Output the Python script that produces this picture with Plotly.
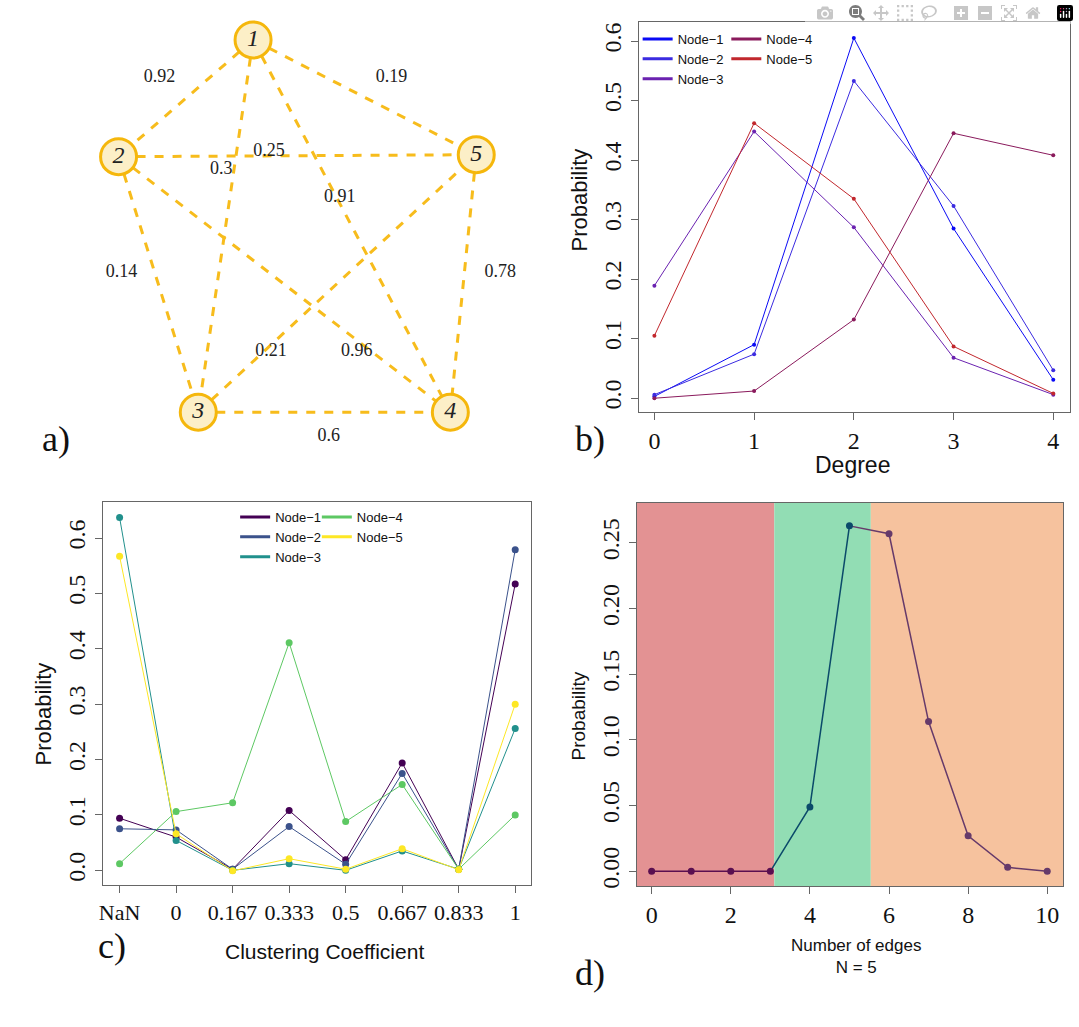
import plotly.graph_objects as go

W, H = 1079, 1027

# ---------- Panel a: network ----------
node_names = ["1", "2", "3", "4", "5"]
node_x = [250, 115, 195, 448, 474]
node_y = [40, 157, 413, 413, 155]
edges = [("1", "2"), ("1", "5"), ("2", "5"), ("1", "3"), ("1", "4"),
         ("2", "3"), ("5", "4"), ("3", "5"), ("2", "4"), ("3", "4")]
edge_weights = ["0.92", "0.19", "0.25", "0.3", "0.91", "0.14", "0.78", "0.21", "0.96", "0.6"]
label_x = [156, 389, 266, 218, 337, 118, 498, 268, 354, 326]
label_y = [78, 78, 152, 170, 198, 273, 273, 352, 352, 437]

# ---------- Panel b ----------
degree = [0, 1, 2, 3, 4]
deg_names = ["Node\u22121", "Node\u22122", "Node\u22123", "Node\u22124", "Node\u22125"]
deg_vals = [
    [0.003, 0.09, 0.605, 0.285, 0.031],
    [0.006, 0.074, 0.533, 0.323, 0.047],
    [0.189, 0.448, 0.287, 0.068, 0.006],
    [0.0, 0.012, 0.132, 0.445, 0.408],
    [0.105, 0.462, 0.335, 0.087, 0.008],
]
deg_colors = ["#0A0AF5", "#3B2BE0", "#6A22B0", "#8A1A5C", "#C1272D"]

# ---------- Panel c ----------
cc_labels = ["NaN", "0", "0.167", "0.333", "0.5", "0.667", "0.833", "1"]
cc_vals = [
    [0.094, 0.060, 0.002, 0.108, 0.019, 0.194, 0.002, 0.517],
    [0.075, 0.073, 0.002, 0.079, 0.011, 0.175, 0.002, 0.579],
    [0.637, 0.054, 0.0, 0.012, 0.0, 0.035, 0.002, 0.256],
    [0.012, 0.106, 0.122, 0.411, 0.088, 0.155, 0.002, 0.100],
    [0.567, 0.066, -0.001, 0.021, 0.002, 0.039, 0.001, 0.300],
]
cc_colors = ["#440154", "#3B528B", "#21908C", "#5DC863", "#FDE725"]

# ---------- Panel d ----------
n_edges = list(range(11))
p_edges = [0.0, 0.0, 0.0, 0.0, 0.049, 0.263, 0.257, 0.114, 0.027, 0.003, 0.0]
regions = [(-0.4, 3.1, "#E39293"), (3.1, 5.54, "#92DDB4"), (5.54, 10.5, "#F6C29E")]

fig = go.Figure()

def px_x(p):
    return p / W

def px_y(p):
    return 1 - p / H

for (a, b) in edges:
    i, j = node_names.index(a), node_names.index(b)
    fig.add_trace(go.Scatter(x=[node_x[i], node_x[j]], y=[node_y[i], node_y[j]], mode="lines",
                             line=dict(color="#F7BC1C", width=3, dash="dash"),
                             showlegend=False, hoverinfo="skip", xaxis="x", yaxis="y"))
fig.add_trace(go.Scatter(x=label_x, y=label_y, mode="text", text=edge_weights,
                         textfont=dict(family="Liberation Serif", size=18, color="#222"),
                         showlegend=False, xaxis="x", yaxis="y"))
fig.add_trace(go.Scatter(x=node_x, y=node_y, mode="markers+text", text=["<i>%s</i>" % n for n in node_names],
                         textfont=dict(family="Liberation Serif", size=24, color="#222"),
                         marker=dict(size=36, color="#FCEFC7", line=dict(color="#F5B70C", width=3)),
                         showlegend=False, xaxis="x", yaxis="y"))

# panel b
for k in range(5):
    fig.add_trace(go.Scatter(x=degree, y=deg_vals[k], mode="lines+markers", name=deg_names[k],
                             line=dict(color=deg_colors[k], width=1), marker=dict(size=4, color=deg_colors[k]),
                             xaxis="x2", yaxis="y2", showlegend=False))
    fig.add_trace(go.Scatter(x=[None], y=[None], mode="lines", name=deg_names[k],
                             line=dict(color=deg_colors[k], width=3),
                             xaxis="x2", yaxis="y2", legend="legend" if k < 3 else "legend2"))
# panel c
for k in range(5):
    fig.add_trace(go.Scatter(x=list(range(len(cc_labels))), y=cc_vals[k], mode="lines+markers", name=deg_names[k],
                             line=dict(color=cc_colors[k], width=1), marker=dict(size=7, color=cc_colors[k]),
                             xaxis="x3", yaxis="y3", showlegend=False))
    fig.add_trace(go.Scatter(x=[None], y=[None], mode="lines", name=deg_names[k],
                             line=dict(color=cc_colors[k], width=3),
                             xaxis="x3", yaxis="y3", legend="legend3" if k < 3 else "legend4"))
# panel d
seg_col = ["#5A0F50"] * 4 + ["#0B4A6A"] * 2 + ["#663A6A"] * 5
fig.add_trace(go.Scatter(x=n_edges[:4], y=p_edges[:4], mode="lines", line=dict(color="#5A0F50", width=1.5),
                         showlegend=False, xaxis="x4", yaxis="y4"))
fig.add_trace(go.Scatter(x=n_edges[3:6], y=p_edges[3:6], mode="lines", line=dict(color="#0B4A6A", width=1.5),
                         showlegend=False, xaxis="x4", yaxis="y4"))
fig.add_trace(go.Scatter(x=n_edges[5:], y=p_edges[5:], mode="lines", line=dict(color="#663A6A", width=1.5),
                         showlegend=False, xaxis="x4", yaxis="y4"))
fig.add_trace(go.Scatter(x=n_edges, y=p_edges, mode="markers", marker=dict(size=7, color=seg_col),
                         showlegend=False, xaxis="x4", yaxis="y4"))
for (x0, x1, c) in regions:
    fig.add_shape(type="rect", xref="x4", yref="y4", x0=x0, x1=x1, y0=-0.02, y1=0.3,
                  fillcolor=c, line=dict(width=0), layer="below")

tickfont = dict(family="Liberation Serif", size=24, color="#111")
common = dict(showline=True, mirror=True, linecolor="#666", linewidth=1, ticks="outside", ticklen=7,
              tickcolor="#666", showgrid=False, zeroline=False)

fig.update_layout(
    width=W, height=H, margin=dict(l=0, r=0, t=0, b=0), paper_bgcolor="white", plot_bgcolor="rgba(0,0,0,0)",
    xaxis=dict(domain=[0, 1], range=[0, W], visible=False, fixedrange=True),
    yaxis=dict(domain=[0, 1], range=[H, 0], visible=False, fixedrange=True),
    xaxis2=dict(domain=[px_x(637), px_x(1070)], range=[-0.158, 4.168], tickvals=degree, anchor="y2",
                tickfont=tickfont, **common),
    yaxis2=dict(domain=[px_y(413), px_y(22)], range=[-0.0235, 0.632], tickvals=[0, 0.1, 0.2, 0.3, 0.4, 0.5, 0.6],
                tickformat=".1f", tickangle=-90, anchor="x2", tickfont=tickfont, **common),
    xaxis3=dict(domain=[px_x(99), px_x(529)], range=[-0.3, 7.28], tickvals=list(range(8)), ticktext=cc_labels,
                anchor="y3", tickfont=dict(family="Liberation Serif", size=22, color="#111"), **common),
    yaxis3=dict(domain=[px_y(887), px_y(503)], range=[-0.027, 0.665], tickvals=[0, 0.1, 0.2, 0.3, 0.4, 0.5, 0.6],
                tickformat=".1f", tickangle=-90, anchor="x3", tickfont=tickfont, **common),
    xaxis4=dict(domain=[px_x(635), px_x(1063)], range=[-0.38, 10.4], tickvals=[0, 2, 4, 6, 8, 10], anchor="y4",
                tickfont=tickfont, **common),
    yaxis4=dict(domain=[px_y(888), px_y(504)], range=[-0.0114, 0.2804], tickvals=[0, 0.05, 0.1, 0.15, 0.2, 0.25],
                tickformat=".2f", tickangle=-90, anchor="x4", tickfont=tickfont, **common),
)
legfont = dict(family="Liberation Sans", size=13, color="#111")
leg = dict(bgcolor="rgba(0,0,0,0)", font=legfont, tracegroupgap=0, itemwidth=30,
           xanchor="left", yanchor="top")
fig.update_layout(
    legend=dict(x=px_x(636), y=px_y(24), **leg),
    legend2=dict(x=px_x(725), y=px_y(24), **leg),
    legend3=dict(x=px_x(232), y=px_y(503), **leg),
    legend4=dict(x=px_x(314), y=px_y(503), **leg),
)

ann = [
    ("a)", 52, 440, "Liberation Serif", 36, 0),
    ("b)", 588, 440, "Liberation Serif", 36, 0),
    ("c)", 108, 948, "Liberation Serif", 36, 0),
    ("d)", 588, 975, "Liberation Serif", 36, 0),
    ("Degree", 852, 466, "Liberation Sans", 23, 0),
    ("Clustering Coefficient", 322, 953, "Liberation Sans", 21, 0),
    ("Number of edges<br>N = 5", 855, 958, "Liberation Sans", 17, 0),
    ("Probability", 578, 200, "Liberation Sans", 22, -90),
    ("Probability", 40, 715, "Liberation Sans", 22, -90),
    ("Probability", 577, 717, "Liberation Sans", 19, -90),
]
for t, x, y, fam, sz, ang in ann:
    fig.add_annotation(text=t, x=px_x(x), y=px_y(y), xref="paper", yref="paper", showarrow=False,
                       font=dict(family=fam, size=sz, color="#111"), textangle=ang,
                       xanchor="center", yanchor="middle")

fig.write_html("out.html",
               post_script="document.body.style.margin='0';document.body.style.overflow='hidden';")
